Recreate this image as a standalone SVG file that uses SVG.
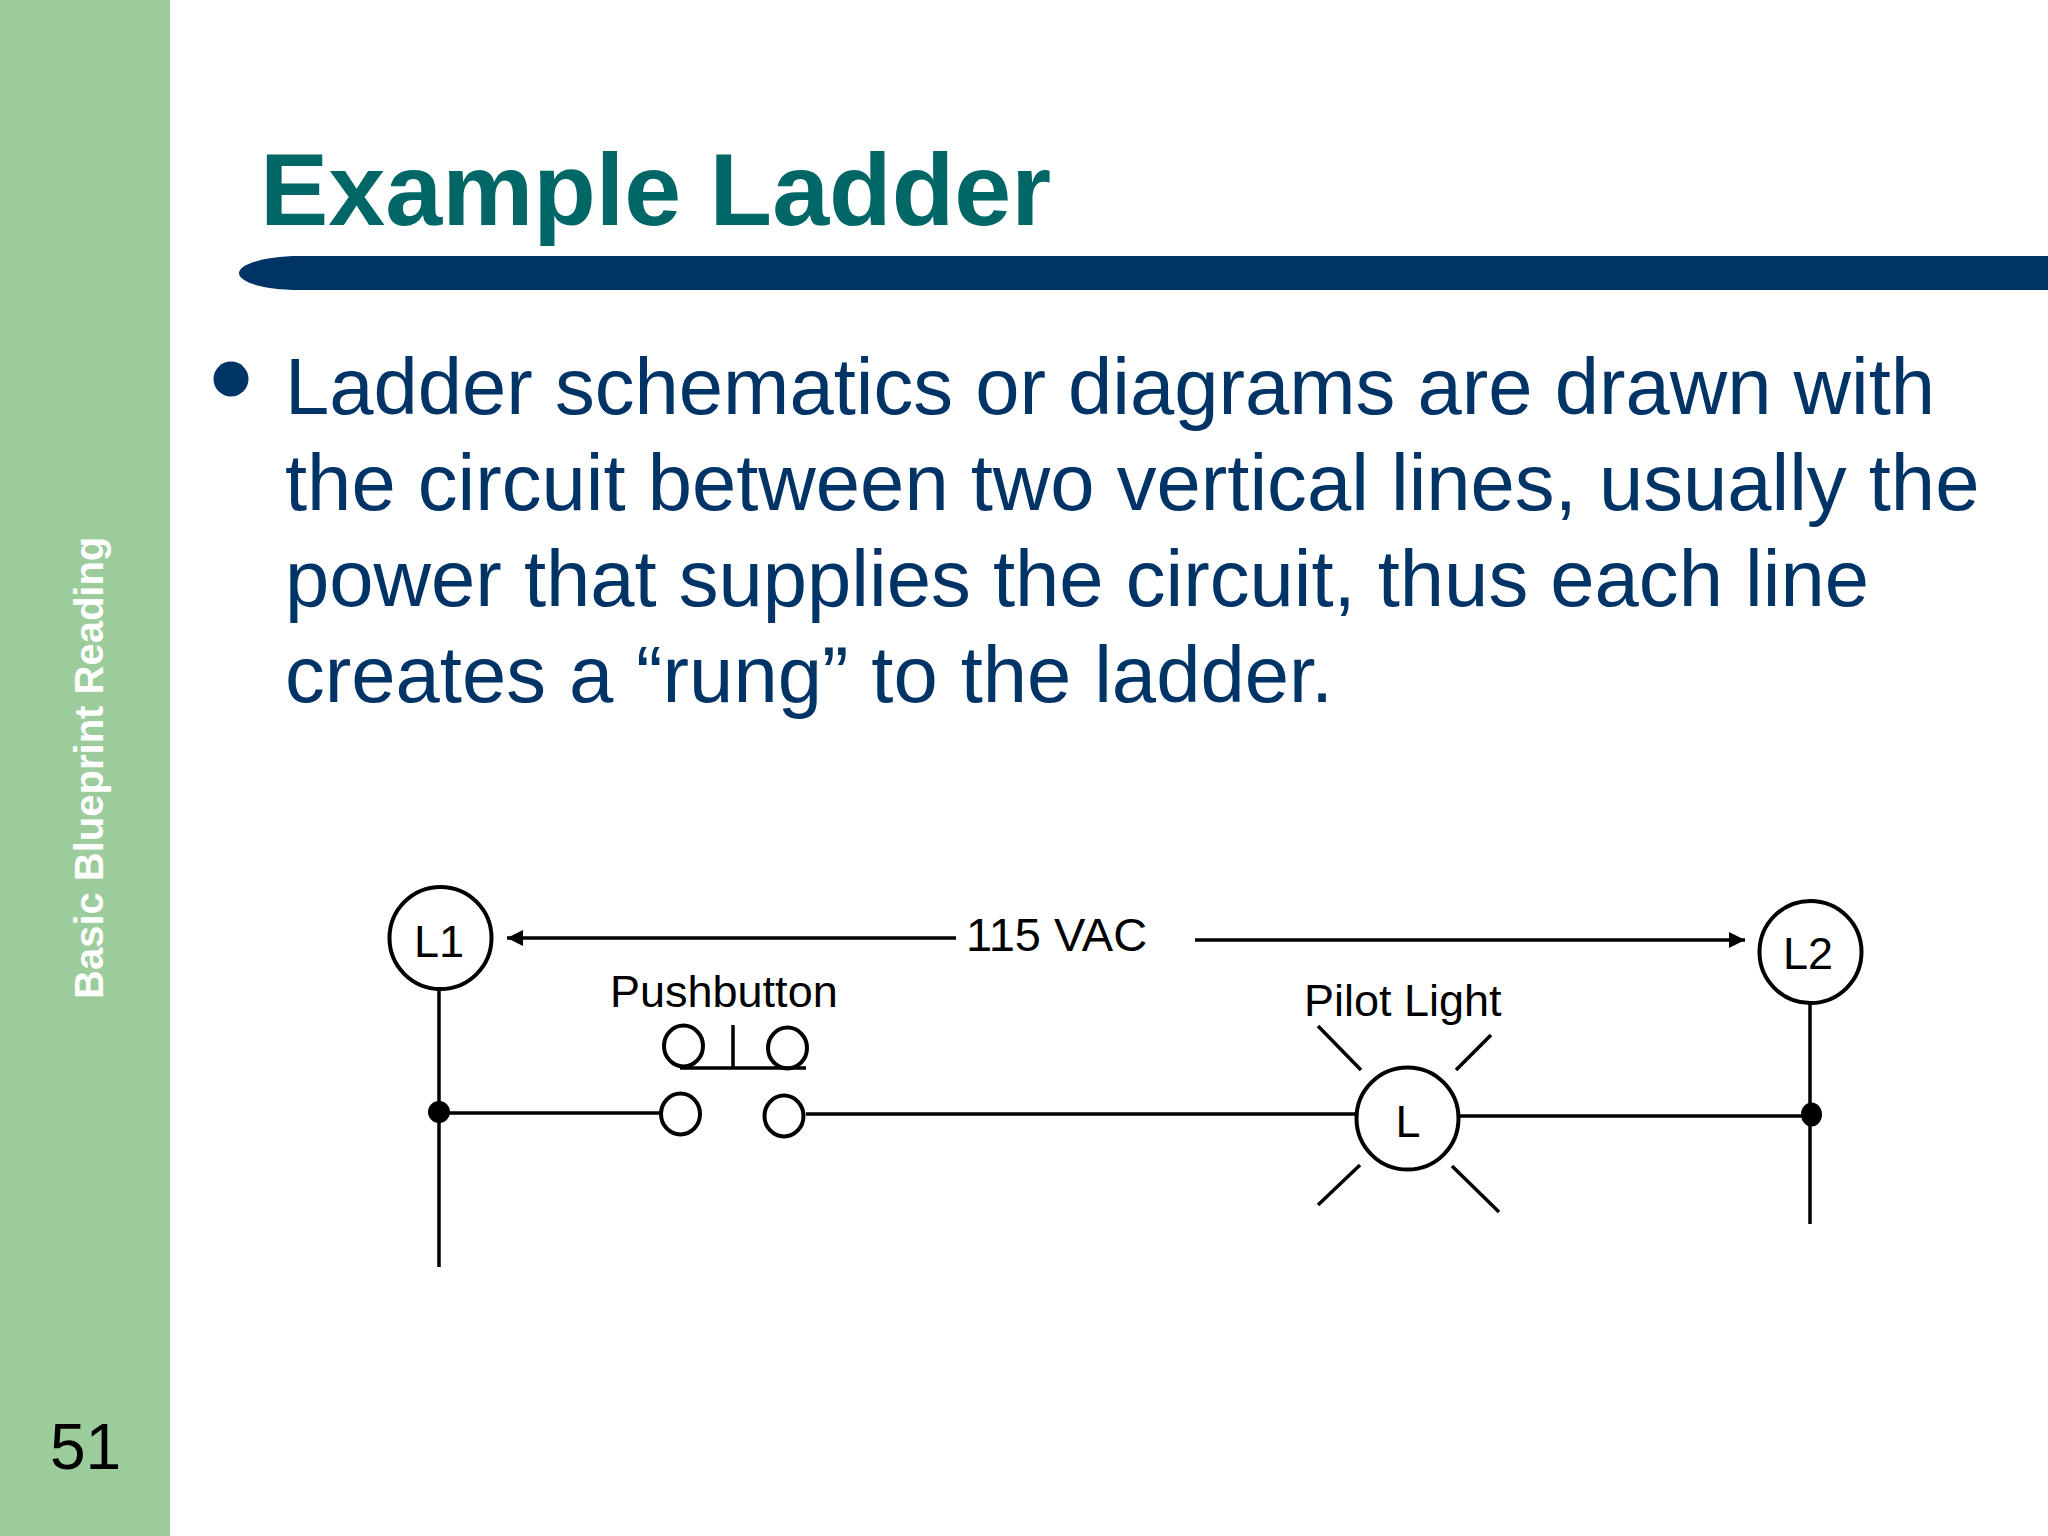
<svg xmlns="http://www.w3.org/2000/svg" width="2048" height="1536" viewBox="0 0 2048 1536">
<style>
text{font-family:"Liberation Sans",Arial,sans-serif}
.body{font-size:79.6px;fill:#003366}
.lbl{font-size:45px;fill:#000}
.sym{fill:#fff;stroke:#000;stroke-width:4}
.wire{fill:none;stroke:#000;stroke-width:3.5}
</style>
<defs><marker id="ah" markerUnits="userSpaceOnUse" markerWidth="18" markerHeight="18" refX="16" refY="8" orient="auto-start-reverse"><path d="M0 0L16 8L0 16Z" fill="#000"/></marker></defs>
<rect width="2048" height="1536" fill="#fff"/>
<rect width="170" height="1536" fill="#9ccc9c"/>
<text transform="translate(103 999) rotate(-90)" font-size="40" font-weight="700" fill="#fff">Basic Blueprint Reading</text>
<text x="50" y="1469" font-size="64" fill="#000">51</text>
<text x="260" y="225" font-size="102.400" font-weight="700" fill="#006666">Example Ladder</text>
<path d="M2048 256H300C262 256 239 265 239 273C239 282 262 290 300 290H2048Z" fill="#003366"/>
<circle cx="231" cy="379" r="17.500" fill="#003366"/>
<g><text class="body" x="285" y="414">Ladder schematics or diagrams are drawn with</text>
<text class="body" x="285" y="510">the circuit between two vertical lines, usually the</text>
<text class="body" x="285" y="606">power that supplies the circuit, thus each line</text>
<text class="body" x="285" y="702" word-spacing="0.8">creates a “rung” to the ladder.</text></g>
<g id="connectors" class="wire">
<path d="M439 989V1267"/><path d="M1810 1004V1224"/>
<path d="M439 1113H660"/><path d="M806 1114H1356"/><path d="M1459 1116H1811"/>
<path d="M956 938H507" marker-end="url(#ah)"/><path d="M1195 940H1745" marker-end="url(#ah)"/>
<path d="M1318 1026L1361 1070"/><path d="M1491 1035L1456 1070"/><path d="M1360 1165L1318 1205"/><path d="M1452 1166L1499 1212"/>
</g>
<g id="L1"><ellipse class="sym" cx="440.500" cy="938" rx="51" ry="51"/><text class="lbl" x="439" y="957" text-anchor="middle">L1</text></g>
<g id="L2"><ellipse class="sym" cx="1810.500" cy="952" rx="51" ry="51"/><text class="lbl" x="1808" y="969" text-anchor="middle">L2</text></g>
<g id="L"><ellipse class="sym" cx="1407.500" cy="1118.500" rx="51" ry="51"/><text class="lbl" x="1408" y="1137" text-anchor="middle">L</text></g>
<g id="dot1"><ellipse cx="439" cy="1112" rx="11" ry="11"/></g>
<g id="dot2"><ellipse cx="1811.500" cy="1114.500" rx="10.500" ry="12"/></g>
<g id="pushbutton">
<ellipse class="sym" cx="683.500" cy="1046" rx="19.500" ry="20.500"/><ellipse class="sym" cx="787.500" cy="1048" rx="19.500" ry="20.500"/>
<ellipse class="sym" cx="680.500" cy="1114" rx="19.500" ry="20.500"/><ellipse class="sym" cx="784" cy="1116" rx="19.500" ry="20.500"/>
<path class="wire" d="M680 1068H806M733 1025V1068"/>
<text class="lbl" x="610" y="1007">Pushbutton</text>
</g>
<text class="lbl" x="1304" y="1016">Pilot Light</text>
<text x="966" y="951" font-size="47" fill="#000">115 VAC</text>
</svg>
